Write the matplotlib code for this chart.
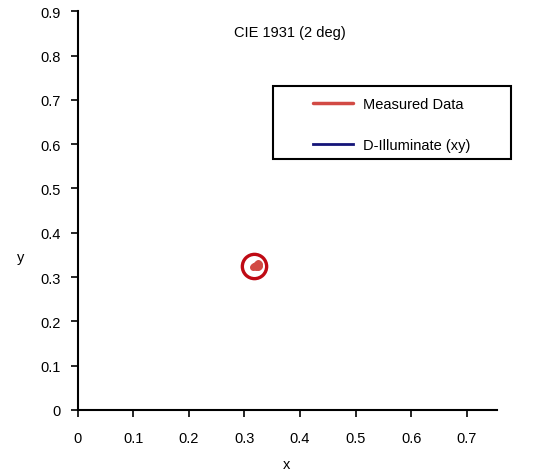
import matplotlib.pyplot as plt
from matplotlib.patches import Rectangle

plt.rcParams['font.family'] = ['Liberation Sans', 'DejaVu Sans']

# measured chromaticity points (clustered)
meas_x = [0.316, 0.318, 0.320, 0.322, 0.324, 0.326, 0.327, 0.325, 0.321, 0.319]
meas_y = [0.322, 0.325, 0.328, 0.330, 0.331, 0.329, 0.326, 0.323, 0.323, 0.324]
# D-illuminant locus (not visible in the plotted range)
d_x = []
d_y = []
# highlighted point (circled)
circle_x = [0.318]
circle_y = [0.326]

x_ticks = [0, 0.1, 0.2, 0.3, 0.4, 0.5, 0.6, 0.7]
y_ticks = [0, 0.1, 0.2, 0.3, 0.4, 0.5, 0.6, 0.7, 0.8, 0.9]
x_labels = ['0', '0.1', '0.2', '0.3', '0.4', '0.5', '0.6', '0.7']
y_labels = ['0', '0.1', '0.2', '0.3', '0.4', '0.5', '0.6', '0.7', '0.8', '0.9']

fig = plt.figure(figsize=(5.4, 4.77), dpi=100)
ax = fig.add_axes([0.1439, 0.1384, 0.7759, 0.8358])

ax.plot(meas_x, meas_y, color='#d24a44', lw=2.5, marker='o', ms=4, ls='none')
l1, = ax.plot(meas_x, meas_y, color='#d24a44', lw=2.5,
              solid_capstyle='round', label='Measured Data')
l2, = ax.plot(d_x, d_y, color='#141478', lw=2, label='D-Illuminate (xy)')
ax.plot(circle_x, circle_y, 'o', ms=17.5, mfc='none', mec='#bf0a14', mew=2.4)

ax.set_xlim(0, 0.754)
ax.set_ylim(0, 0.9)
ax.set_xticks(x_ticks)
ax.set_xticklabels(x_labels)
ax.set_yticks(y_ticks)
ax.set_yticklabels(y_labels)
ax.spines['top'].set_visible(False)
ax.spines['right'].set_visible(False)
ax.spines['left'].set_linewidth(1.5)
ax.spines['bottom'].set_linewidth(1.5)
ax.tick_params(direction='out', length=5, width=1.2, labelsize=10.5)
ax.tick_params(axis='x', pad=10)
ax.tick_params(axis='y', pad=7)
ax.set_xlabel('x', fontsize=10.5)
ax.set_ylabel('y', fontsize=10.5, rotation=0)
ax.yaxis.set_label_coords(-0.137, 0.365)
ax.xaxis.set_label_coords(0.4985, -0.118)

ax.text(0.382, 0.853, 'CIE 1931 (2 deg)', transform=ax.transData,
        ha='center', va='center', fontsize=10.5)

fig.patches.append(Rectangle((273 / 540, 1 - 160 / 477), 238 / 540, 73 / 477,
                             transform=fig.transFigure, fill=False,
                             edgecolor='black', lw=1.5))
fig.legend(handles=[l1, l2], loc='center', bbox_to_anchor=(392 / 540, 1 - 125.5 / 477),
           frameon=False, fontsize=10.5, labelspacing=1.85, handlelength=2.7,
           handletextpad=0.75)

fig.savefig('out.png', dpi=100)
